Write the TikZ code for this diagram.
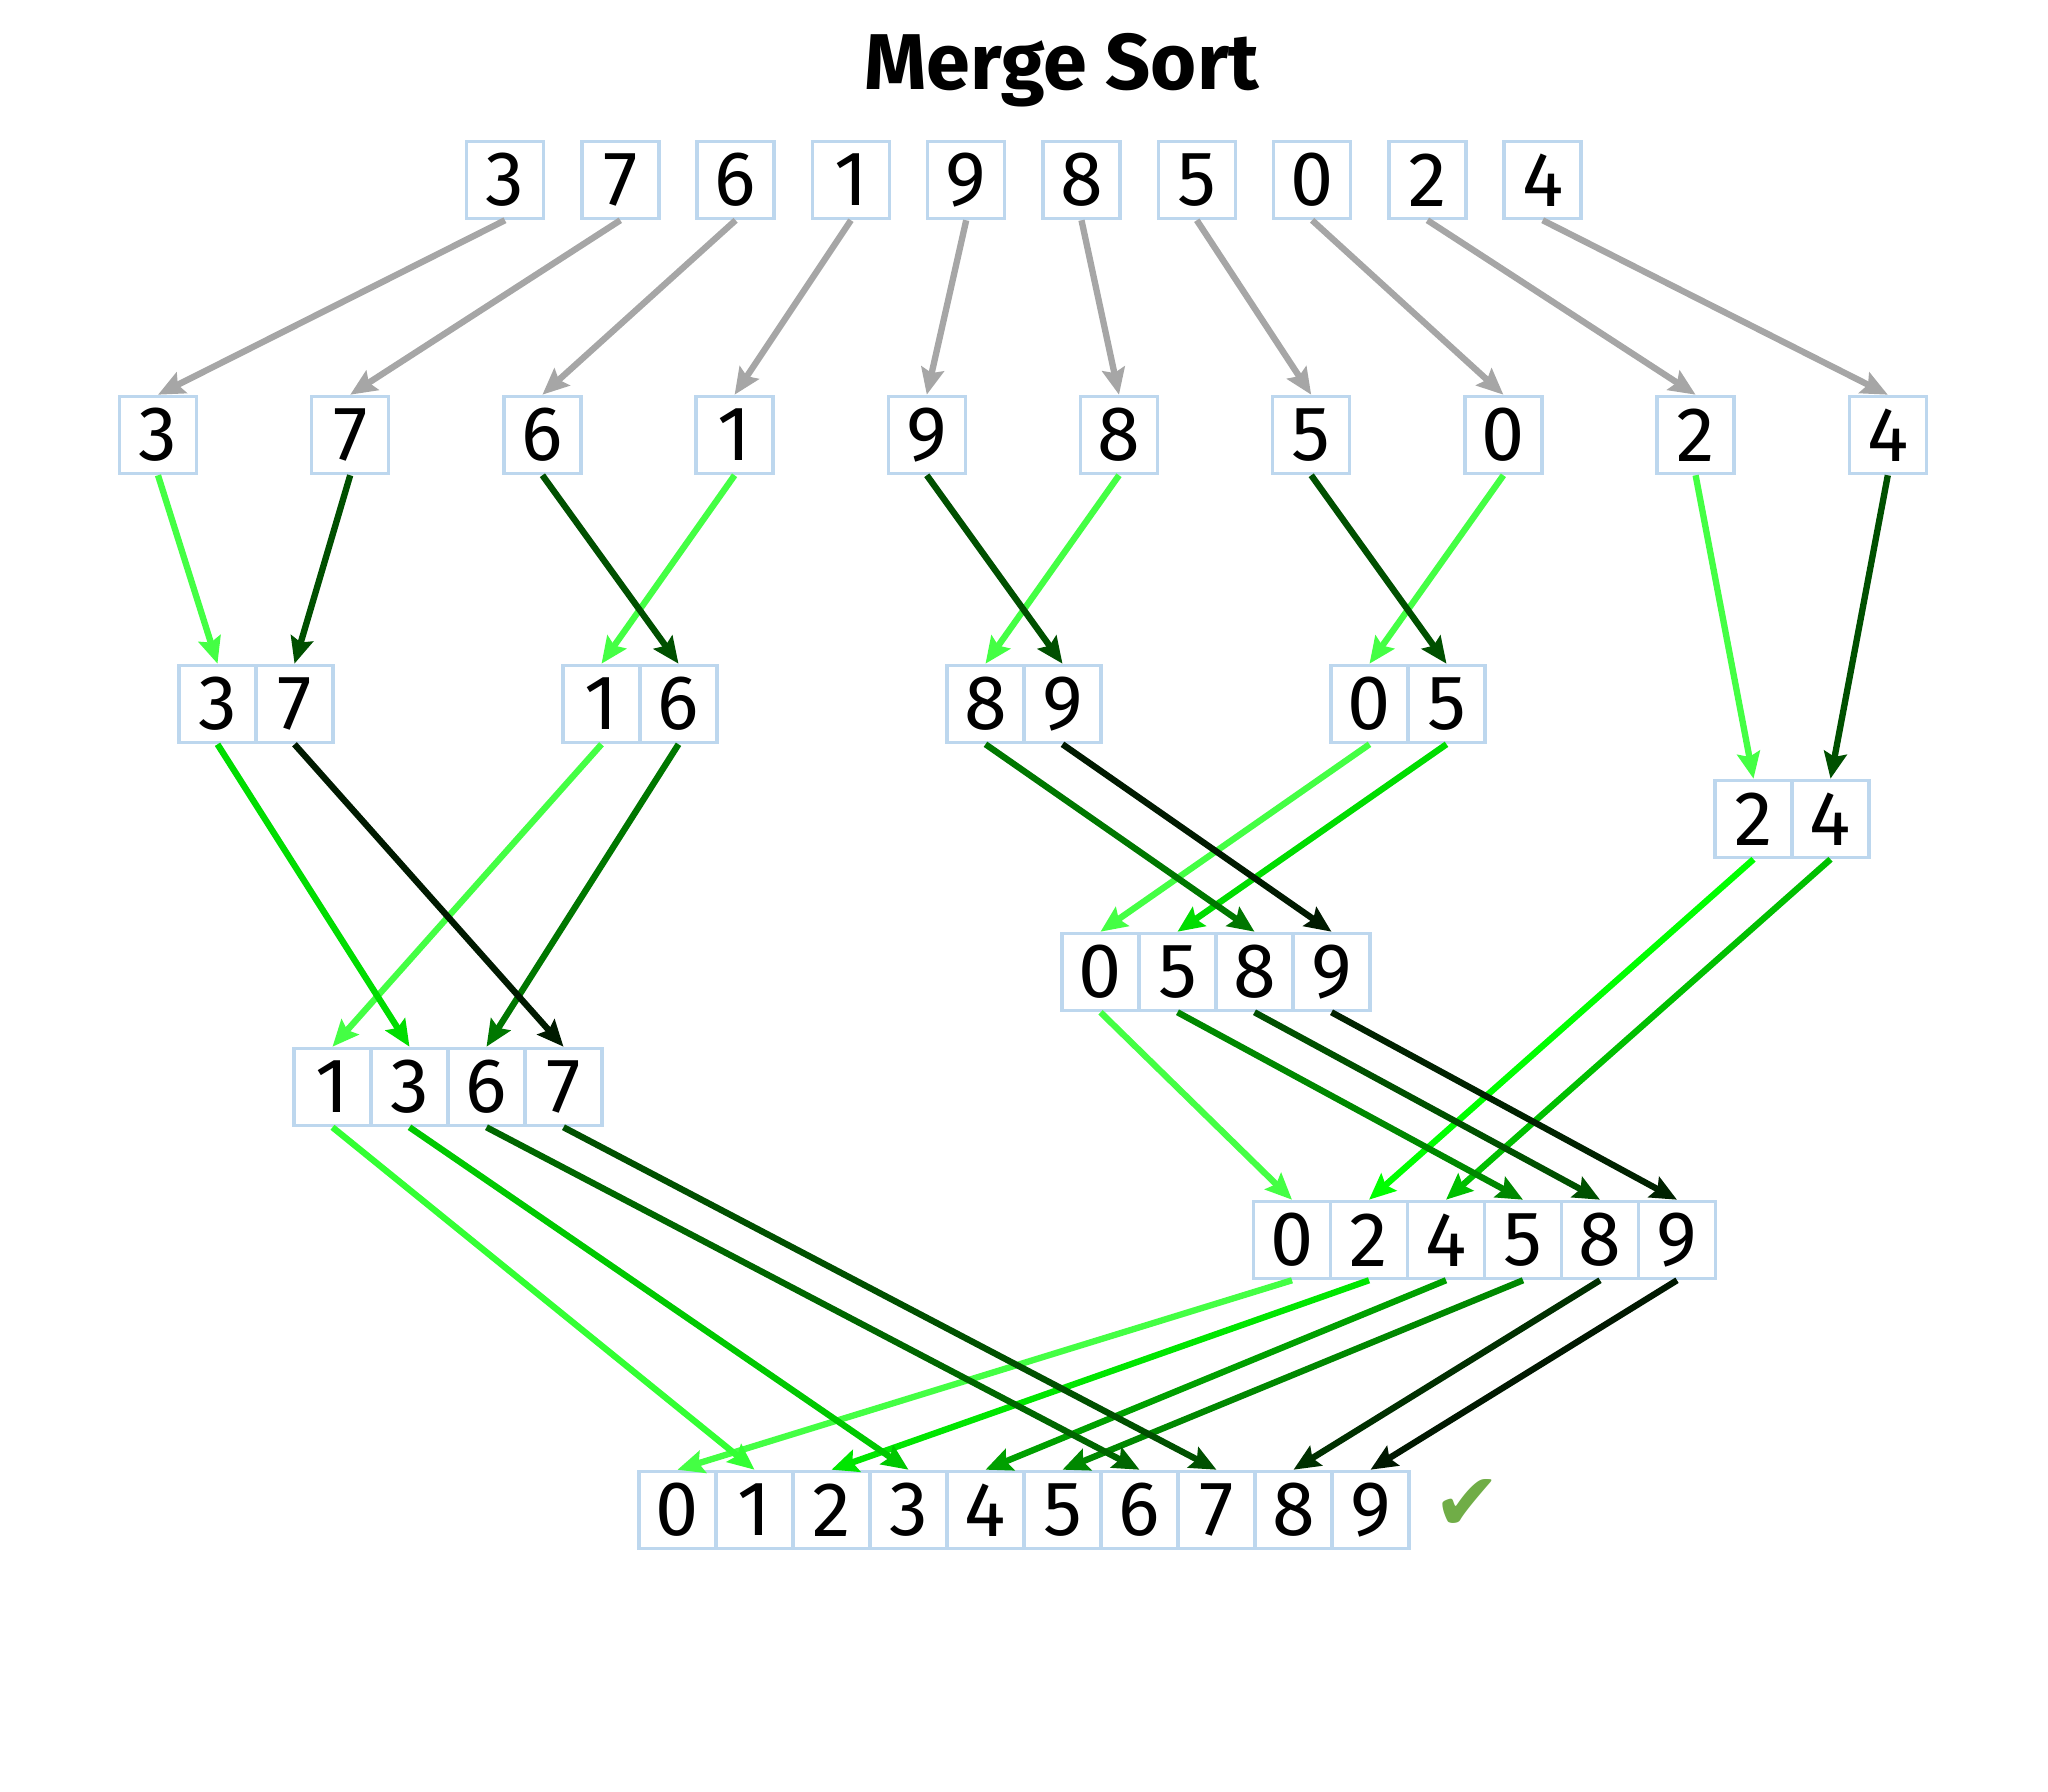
\documentclass[tikz,border=0pt]{standalone}
\usepackage{fontspec}
\setmainfont{Fira Sans}
\newfontfamily\symfont{DejaVu Sans}
\usepackage{xcolor}
\usetikzlibrary{arrows.meta, positioning}
\definecolor{cellblue}{RGB}{189,215,238}
\definecolor{splitgray}{RGB}{166,166,166}
\definecolor{checkgreen}{RGB}{112,173,71}
% output position colours: pairs (p), fours (q), six (s), ten (t)
\definecolor{p0}{RGB}{68,255,68}
\definecolor{p1}{RGB}{0,80,0}
\definecolor{q0}{RGB}{68,255,68}
\definecolor{q1}{RGB}{0,221,0}
\definecolor{q2}{RGB}{0,119,0}
\definecolor{q3}{RGB}{0,26,0}
\definecolor{s0}{RGB}{68,255,68}
\definecolor{s1}{RGB}{0,255,0}
\definecolor{s2}{RGB}{0,192,0}
\definecolor{s3}{RGB}{0,136,0}
\definecolor{s4}{RGB}{0,80,0}
\definecolor{s5}{RGB}{0,34,0}
\definecolor{t0}{RGB}{68,255,68}
\definecolor{t1}{RGB}{51,255,51}
\definecolor{t2}{RGB}{0,230,0}
\definecolor{t3}{RGB}{0,200,0}
\definecolor{t4}{RGB}{0,160,0}
\definecolor{t5}{RGB}{0,136,0}
\definecolor{t6}{RGB}{0,102,0}
\definecolor{t7}{RGB}{0,80,0}
\definecolor{t8}{RGB}{0,48,0}
\definecolor{t9}{RGB}{0,24,0}
\tikzstyle{cell} = [rectangle, draw=cellblue, line width=1pt, fill=white,
minimum size=0.77cm, inner sep=0pt, font=\fontsize{22}{24}\selectfont]
\tikzstyle{splitarrow} = [-{Stealth[length=7.5pt, width=6.5pt, inset=1.2pt]}, line width=1.8pt, color=splitgray]
\tikzstyle{mergearrow} = [-{Stealth[length=7.5pt, width=6.5pt, inset=1.2pt]}, line width=1.8pt]

\begin{document}
\begin{tikzpicture}[x=0.01cm, y=-0.01cm]
    \useasboundingbox (0,0) rectangle (2048,1792);
    \node (title) at (1062,70) {\fontsize{22.5}{26}\selectfont\bfseries Merge Sort};

    % input and single elements
    \foreach \v [count=\i from 0] in {3,7,6,1,9,8,5,0,2,4} {
        \node (a\v) [cell] at ({505+115.3*\i},180) {\v};
        \node (b\v) [cell] at ({158+192.2*\i},435) {\v};
    }
    % pairs
    \foreach \v [count=\i from 0] in {3,7} \node (c\v) [cell] at ({217.5+77*\i},704) {\v};
    \foreach \v [count=\i from 0] in {1,6} \node (c\v) [cell] at ({601.5+77*\i},704) {\v};
    \foreach \v [count=\i from 0] in {8,9} \node (c\v) [cell] at ({985.5+77*\i},704) {\v};
    \foreach \v [count=\i from 0] in {0,5} \node (c\v) [cell] at ({1369.5+77*\i},704) {\v};
    \foreach \v [count=\i from 0] in {2,4} \node (c\v) [cell] at ({1753.5+77*\i},819) {\v};
    % fours
    \foreach \v [count=\i from 0] in {1,3,6,7} \node (d\v) [cell] at ({332.5+77*\i},1087) {\v};
    \foreach \v [count=\i from 0] in {0,5,8,9} \node (d\v) [cell] at ({1100.5+77*\i},972) {\v};
    % six and result
    \foreach \v [count=\i from 0] in {0,2,4,5,8,9} \node (e\v) [cell] at ({1292+77*\i},1240) {\v};
    \foreach \v [count=\i from 0] in {0,...,9} \node (f\v) [cell] at ({677.5+77*\i},1510) {\v};
    \node (check) at (1467,1505) {\symfont\fontsize{23}{24}\selectfont\color{checkgreen}✔};

    % split
    \foreach \v in {0,...,9} \draw[splitarrow] (a\v.south) -- (b\v.north);
    % merge
    \foreach \v/\c in {3/p0,7/p1,1/p0,6/p1,8/p0,9/p1,0/p0,5/p1,2/p0,4/p1}
        \draw[mergearrow, color=\c] (b\v.south) -- (c\v.north);
    \foreach \v/\c in {1/q0,3/q1,6/q2,7/q3,0/q0,5/q1,8/q2,9/q3}
        \draw[mergearrow, color=\c] (c\v.south) -- (d\v.north);
    \foreach \s/\v/\c in {d/0/s0,c/2/s1,c/4/s2,d/5/s3,d/8/s4,d/9/s5}
        \draw[mergearrow, color=\c] (\s\v.south) -- (e\v.north);
    \foreach \s/\v/\c in {e/0/t0,d/1/t1,e/2/t2,d/3/t3,e/4/t4,e/5/t5,d/6/t6,d/7/t7,e/8/t8,e/9/t9}
        \draw[mergearrow, color=\c] (\s\v.south) -- (f\v.north);
\end{tikzpicture}
\end{document}
